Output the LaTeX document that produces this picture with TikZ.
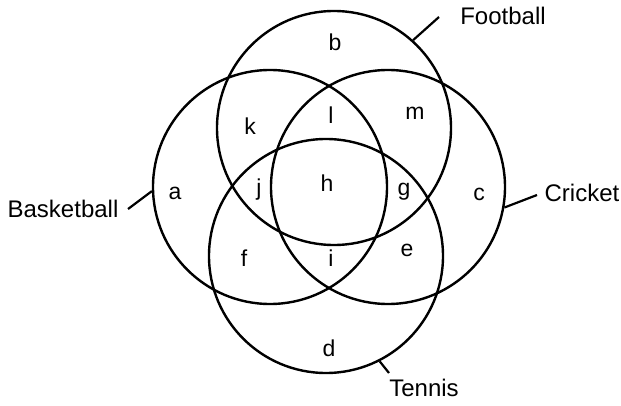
\documentclass[tikz,border=0pt]{standalone}
\usepackage{fontspec}
\setmainfont{Liberation Sans}
\begin{document}
\begin{tikzpicture}[x=1pt,y=-1pt,
  setc/.style={circle,draw,line width=2.4pt,minimum size=234pt,inner sep=0pt},
  reg/.style={font=\fontsize{23}{26}\selectfont,inner sep=0pt},
  lab/.style={font=\fontsize{24}{28}\selectfont,inner sep=0pt},
  lead/.style={line width=2.2pt}]
\useasboundingbox (0,0) rectangle (621,406);
\node[setc] (F) at (334,128) {};
\node[setc] (B) at (270,187) {};
\node[setc] (C) at (388,187) {};
\node[setc] (T) at (326,256) {};
\node[reg] (rb) at (335,42) {b};
\node[reg] (rk) at (250,126) {k};
\node[reg] (rl) at (331,115) {l};
\node[reg] (rm) at (415,113) {m};
\node[reg] (ra) at (175,193) {a};
\node[reg] (rj) at (259,190) {j};
\node[reg] (rh) at (327,183) {h};
\node[reg] (rg) at (404,192) {g};
\node[reg] (rc) at (479,194) {c};
\node[reg] (rf) at (244,258) {f};
\node[reg] (ri) at (331,258) {i};
\node[reg] (re) at (407,250) {e};
\node[reg] (rd) at (329,348) {d};
\node[lab] (lF) at (503,16) {Football};
\node[lab] (lB) at (63,209) {Basketball};
\node[lab] (lC) at (582,193) {Cricket};
\node[lab] (lT) at (424,388) {Tennis};
\coordinate (eF) at (439,17);
\coordinate (eB) at (128,209);
\coordinate (eC) at (537,195);
\coordinate (eT) at (389,373);
\draw[lead] (F.48) -- (eF);
\draw[lead] (B.182) -- (eB);
\draw[lead] (C.-10) -- (eC);
\draw[lead] (T.-63) -- (eT);
\end{tikzpicture}
\end{document}
